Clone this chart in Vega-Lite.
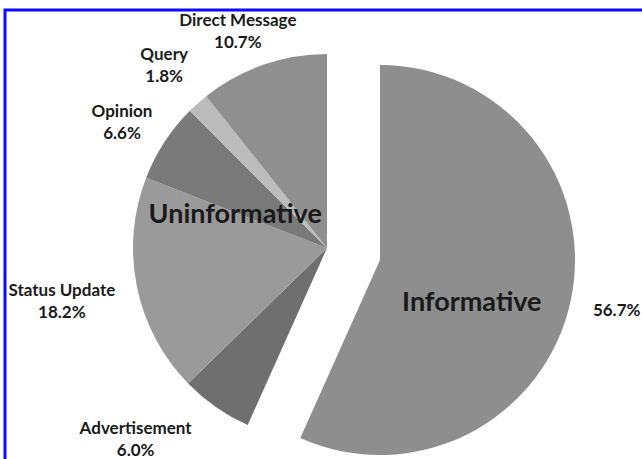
{
  "$schema": "https://vega.github.io/schema/vega-lite/v6.json",
  "width": 660,
  "height": 470,
  "autosize": {"type": "none"},
  "padding": {"left": 5, "top": 10, "right": 0, "bottom": 0},
  "background": "white",
  "config": {
    "view": {"stroke": null},
    "text": {"font": "Lato", "fontWeight": "bold", "fill": "#1a1a1a"}
  },
  "data": {
    "values": [
      {"order": 1, "cat": "Informative", "group": "Informative", "pct": 56.7},
      {"order": 2, "cat": "Advertisement", "group": "Uninformative", "pct": 6.0},
      {"order": 3, "cat": "Status Update", "group": "Uninformative", "pct": 18.2},
      {"order": 4, "cat": "Opinion", "group": "Uninformative", "pct": 6.6},
      {"order": 5, "cat": "Query", "group": "Uninformative", "pct": 1.8},
      {"order": 6, "cat": "Direct Message", "group": "Uninformative", "pct": 10.7}
    ]
  },
  "layer": [
    {
      "data": {"values": [{"frame": 1}]},
      "mark": {"type": "rect", "filled": false, "stroke": "#0a0aff", "strokeWidth": 3},
      "encoding": {}
    },
    {
      "transform": [
        {"stack": "pct", "groupby": [], "sort": [{"field": "order"}], "as": ["p0", "p1"]},
        {"calculate": "(datum.p0 + datum.p1) / 2", "as": "mid"},
        {"calculate": "datum.group == 'Informative' ? [format(datum.pct, '.1f') + '%'] : [datum.cat, format(datum.pct, '.1f') + '%']", "as": "label"}
      ],
      "layer": [
        {
          "transform": [{"filter": "datum.group == 'Uninformative'"}],
          "mark": {"type": "arc", "x": 322, "y": 238, "outerRadius": 194, "stroke": null},
          "encoding": {
            "theta": {"field": "p0", "type": "quantitative", "scale": {"domain": [0, 100], "range": [0, 6.283185307]}},
            "theta2": {"field": "p1"},
            "color": {"field": "cat", "type": "nominal", "legend": null,
              "scale": {"domain": ["Informative", "Advertisement", "Status Update", "Opinion", "Query", "Direct Message"],
                        "range": ["#8e8e8e", "#6f6f6f", "#9a9a9a", "#7a7a7a", "#bcbcbc", "#8f8f8f"]}}
          }
        },
        {
          "transform": [{"filter": "datum.group == 'Informative'"}],
          "mark": {"type": "arc", "x": 375, "y": 250, "outerRadius": 195, "stroke": null},
          "encoding": {
            "theta": {"field": "p0", "type": "quantitative"},
            "theta2": {"field": "p1"},
            "color": {"field": "cat", "type": "nominal", "legend": null}
          }
        },
        {
          "transform": [{"filter": "datum.group == 'Uninformative'"}],
          "mark": {"type": "text", "x": 322, "y": 238, "radius": 240, "fontSize": 17, "lineHeight": 22, "align": "center", "baseline": "middle",
            "dx": {"expr": "datum.cat == 'Status Update' ? -30 : datum.cat == 'Advertisement' ? -54 : datum.cat == 'Direct Message' ? -10 : datum.cat == 'Query' ? -3 : -4"},
            "dy": {"expr": "datum.cat == 'Query' ? -14 : datum.cat == 'Advertisement' ? -16 : datum.cat == 'Direct Message' ? 0 : -5"}},
          "encoding": {
            "theta": {"field": "mid", "type": "quantitative"},
            "text": {"field": "label"}
          }
        },
        {
          "transform": [{"filter": "datum.group == 'Informative'"}],
          "mark": {"type": "text", "x": 375, "y": 250, "radius": 242, "fontSize": 17, "align": "center", "baseline": "middle"},
          "encoding": {
            "theta": {"field": "mid", "type": "quantitative"},
            "text": {"field": "label"}
          }
        },
        {
          "transform": [
            {"filter": "datum.group == 'Uninformative'"},
            {"aggregate": [{"op": "min", "field": "p0", "as": "g0"}, {"op": "max", "field": "p1", "as": "g1"}], "groupby": ["group"]},
            {"calculate": "(datum.g0 + datum.g1) / 2", "as": "gmid"}
          ],
          "mark": {"type": "text", "x": 322, "y": 238, "radius": 100, "fontSize": 27, "dx": 6, "dy": -12, "align": "center", "baseline": "middle"},
          "encoding": {
            "theta": {"field": "gmid", "type": "quantitative"},
            "text": {"field": "group"}
          }
        },
        {
          "transform": [
            {"filter": "datum.group == 'Informative'"},
            {"aggregate": [{"op": "min", "field": "p0", "as": "g0"}, {"op": "max", "field": "p1", "as": "g1"}], "groupby": ["group"]},
            {"calculate": "(datum.g0 + datum.g1) / 2", "as": "gmid"}
          ],
          "mark": {"type": "text", "x": 375, "y": 250, "radius": 100, "fontSize": 27, "dx": -6, "dy": 22, "align": "center", "baseline": "middle"},
          "encoding": {
            "theta": {"field": "gmid", "type": "quantitative"},
            "text": {"field": "group"}
          }
        }
      ]
    }
  ]
}
